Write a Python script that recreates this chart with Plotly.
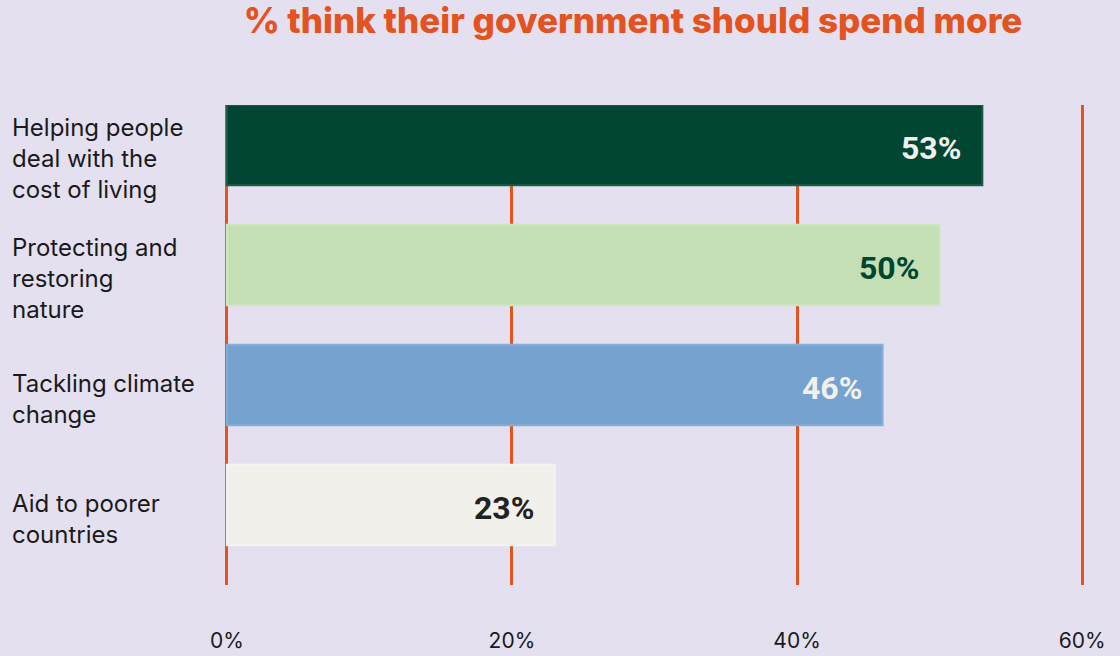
import plotly.graph_objects as go

categories = ["Helping people<br>deal with the<br>cost of living",
              "Protecting and<br>restoring<br>nature",
              "Tackling climate<br>change",
              "Aid to poorer<br>countries"]
values = [53, 50, 46, 23]
value_labels = ["53%", "50%", "46%", "23%"]
tick_vals = [0, 20, 40, 60]
tick_text = ["0%", "20%", "40%", "60%"]

bar_colors = ["#004632", "#C5DFB4", "#76A2CF", "#F2F0EB"]
edge_colors = ["#1E5C4A", "#CFE5C1", "#86AED6", "#F5F3EF"]
label_colors = ["#F2F0EB", "#004632", "#F2F0EB", "#222222"]
ids = list(range(len(categories)))

BG = "#E4E0F0"
ORANGE = "#E2531F"

fig = go.Figure()
fig.add_trace(go.Bar(
    x=values, y=ids, orientation="h",
    marker=dict(color=bar_colors, line=dict(color=edge_colors, width=2)),
    width=0.67, hoverinfo="skip",
))

for i, (cat, v, lab, lc) in enumerate(zip(categories, values, value_labels, label_colors)):
    fig.add_annotation(x=v, y=i, xref="x", yref="y", text=lab, showarrow=False,
                       xanchor="right", xshift=-19, yshift=-3,
                       font=dict(family="Roboto, Arial, sans-serif", size=32, color=lc, weight="bold"))
    fig.add_annotation(x=0, y=i, xref="paper", yref="y", text=cat, showarrow=False,
                       xanchor="left", xshift=-214, yshift=-14, align="left",
                       font=dict(family="Inter, Lato, sans-serif", size=24, color="#1A1A1A"))

fig.update_layout(
    width=1120, height=656,
    paper_bgcolor=BG, plot_bgcolor=BG,
    margin=dict(l=224, r=35, t=105, b=71, autoexpand=False),
    showlegend=False,
    title=dict(text="% think their government should spend more",
               x=633/1120, xanchor="center", xref="container",
               y=1-21/656, yanchor="middle", yref="container",
               font=dict(family="Inter, sans-serif", size=35, color=ORANGE, weight=800)),
    xaxis=dict(range=[-0.2, 60.2], tickvals=tick_vals, ticktext=tick_text,
               showgrid=True, gridcolor=ORANGE, gridwidth=2.5, zeroline=False,
               showline=False, ticks="", ticklabelstandoff=41, automargin=False,
               tickfont=dict(family="Inter, Lato, sans-serif", size=21, color="#1A1A1A")),
    yaxis=dict(range=[3.667, -0.333], showticklabels=False, showgrid=False,
               zeroline=False, showline=False, ticks="", automargin=False),
)

fig.write_html("out.html")
